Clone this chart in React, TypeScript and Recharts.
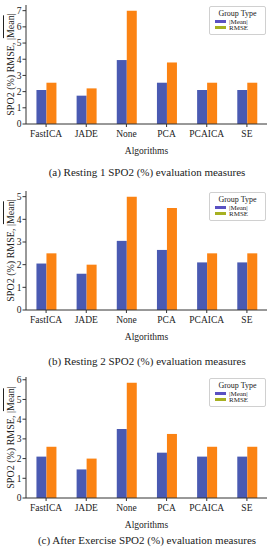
import React from 'react';
import { BarChart, Bar, XAxis, YAxis } from 'recharts';

// algorithm names on the x axis
const algorithms = ['FastICA', 'JADE', 'None', 'PCA', 'PCAICA', 'SE'];

// (a) Resting 1
const meanResting1 = [2.1, 1.75, 3.95, 2.55, 2.1, 2.1];
const rmseResting1 = [2.55, 2.2, 7.0, 3.8, 2.55, 2.55];

// (b) Resting 2
const meanResting2 = [2.05, 1.6, 3.05, 2.65, 2.1, 2.1];
const rmseResting2 = [2.5, 2.0, 5.0, 4.5, 2.5, 2.5];

// (c) After exercise
const meanExercise = [2.1, 1.45, 3.5, 2.3, 2.1, 2.1];
const rmseExercise = [2.6, 2.0, 5.85, 3.25, 2.6, 2.6];

const ticksResting1 = [0, 1, 2, 3, 4, 5, 6, 7];
const ticksResting2 = [0, 1, 2, 3, 4, 5];
const ticksExercise = [0, 1, 2, 3, 4, 5, 6];

const FONT = '"Liberation Serif", "DejaVu Serif", serif';
const AXIS = '#333';
const BLUE = '#4a5ab2';
const ORANGE = '#fb8313';

const buildRows = (mean: number[], rmse: number[]) =>
  algorithms.map((name, i) => ({ name, mean: mean[i], rmse: rmse[i] }));

const YLabel = (props: any) => {
  const { viewBox } = props;
  const cx = viewBox.x + 10;
  const cy = viewBox.y + viewBox.height / 2;
  return (
    <text
      x={cx}
      y={cy}
      transform={`rotate(-90, ${cx}, ${cy})`}
      textAnchor="middle"
      dominantBaseline="central"
      fontSize={10}
      fontFamily={FONT}
      fill="#222"
    >
      SPO2 (%) RMSE, |<tspan textDecoration="overline">Mean</tspan>|
    </text>
  );
};

// legend drawn as an overlay in the upper right corner of the plot
const LegendBox = ({ top }: { top: number }) => (
  <div
    style={{
      position: 'absolute',
      left: 209,
      top,
      width: 55,
      height: 27,
      border: '1px solid #d0d0d0',
      borderRadius: 2,
      background: 'rgba(255,255,255,0.85)',
      fontFamily: FONT,
      color: '#222',
    }}
  >
    <div style={{ position: 'absolute', top: 2, left: 0, width: 55, textAlign: 'center', fontSize: 8, lineHeight: '9px' }}>
      Group Type
    </div>
    <div style={{ position: 'absolute', top: 13, left: 5, width: 11, height: 3, background: '#5a50c2' }} />
    <div style={{ position: 'absolute', top: 10.5, left: 19, fontSize: 7, lineHeight: '8px' }}>|Mean|</div>
    <div style={{ position: 'absolute', top: 19, left: 5, width: 11, height: 3, background: '#a6b021' }} />
    <div style={{ position: 'absolute', top: 17, left: 19, fontSize: 7, lineHeight: '8px' }}>RMSE</div>
  </div>
);

interface PanelProps {
  top: number;
  plotHeight: number;
  yMax: number;
  ticks: number[];
  mean: number[];
  rmse: number[];
  caption: string;
  captionTop: number;
}

const Panel = ({ top, plotHeight, yMax, ticks, mean, rmse, caption, captionTop }: PanelProps) => {
  const data = buildRows(mean, rmse);
  const tickStyle = { fontSize: 9.5, fontFamily: FONT, fill: '#222' };
  return (
    <>
      <div style={{ position: 'absolute', left: 0, top }}>
        <BarChart
          width={270}
          height={5 + plotHeight + 36}
          data={data}
          margin={{ top: 5, right: 3, bottom: 6, left: 0 }}
          barCategoryGap="26%"
          barGap={0}
        >
          <XAxis
            dataKey="name"
            height={30}
            tickSize={3}
            tickMargin={3}
            tick={tickStyle}
            stroke={AXIS}
            interval={0}
            label={{ value: 'Algorithms', position: 'insideBottom', offset: 0, fontSize: 9.5, fontFamily: FONT, fill: '#222' }}
          />
          <XAxis xAxisId="top" orientation="top" dataKey="name" height={0} tick={false} tickLine={false} stroke={AXIS} />
          <YAxis
            width={26}
            domain={[0, yMax]}
            ticks={ticks}
            tickSize={3.5}
            tickMargin={1}
            tick={tickStyle}
            stroke={AXIS}
            allowDataOverflow
            label={<YLabel />}
          />
          <YAxis yAxisId="right" orientation="right" width={0} domain={[0, yMax]} tick={false} tickLine={false} stroke={AXIS} />
          <Bar dataKey="mean" fill={BLUE} isAnimationActive={false} />
          <Bar dataKey="rmse" fill={ORANGE} isAnimationActive={false} />
        </BarChart>
      </div>
      <LegendBox top={top + 6} />
      <div
        style={{
          position: 'absolute',
          left: 0,
          width: 294,
          top: captionTop,
          textAlign: 'center',
          fontFamily: FONT,
          fontSize: 11,
          lineHeight: '13px',
          color: '#222',
          whiteSpace: 'nowrap',
        }}
      >
        {caption}
      </div>
    </>
  );
};

export default function App() {
  return (
    <div style={{ position: 'absolute', left: 0, top: 0, width: 270, height: 550, background: '#fff', overflow: 'hidden' }}>
      <Panel
        top={0}
        plotHeight={119}
        yMax={7.35}
        ticks={ticksResting1}
        mean={meanResting1}
        rmse={rmseResting1}
        caption="(a) Resting 1 SPO2 (%) evaluation measures"
        captionTop={165.5}
      />
      <Panel
        top={186}
        plotHeight={119}
        yMax={5.25}
        ticks={ticksResting2}
        mean={meanResting2}
        rmse={rmseResting2}
        caption="(b) Resting 2 SPO2 (%) evaluation measures"
        captionTop={355}
      />
      <Panel
        top={372}
        plotHeight={121}
        yMax={6.14}
        ticks={ticksExercise}
        mean={meanExercise}
        rmse={rmseExercise}
        caption="(c) After Exercise SPO2 (%) evaluation measures"
        captionTop={533.5}
      />
    </div>
  );
}
